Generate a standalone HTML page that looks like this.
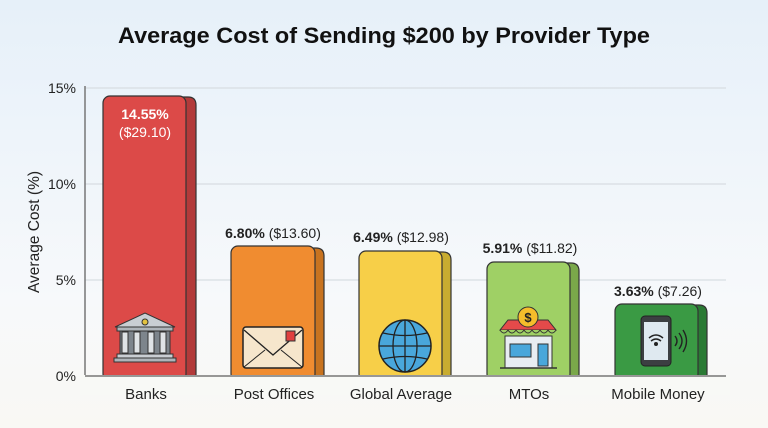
<!DOCTYPE html>
<html><head><meta charset="utf-8"><style>
html,body{margin:0;padding:0;width:768px;height:428px;overflow:hidden;}
svg{display:block;font-family:"Liberation Sans",sans-serif;}
</style></head><body>
<svg width="768" height="428" viewBox="0 0 768 428">
<defs>
<linearGradient id="bg" x1="0" y1="0" x2="0" y2="1">
<stop offset="0" stop-color="#e6f0f9"/><stop offset="0.7" stop-color="#f7f9fb"/><stop offset="1" stop-color="#f9f8f4"/>
</linearGradient>
</defs>
<rect width="768" height="428" fill="url(#bg)"/>
<text x="384" y="43" text-anchor="middle" font-size="22" font-weight="bold" fill="#111" textLength="532" lengthAdjust="spacingAndGlyphs">Average Cost of Sending $200 by Provider Type</text>

<g stroke="#d8dde2" stroke-width="1.2">
<line x1="85" y1="88" x2="726" y2="88"/>
<line x1="85" y1="184" x2="726" y2="184"/>
<line x1="85" y1="280" x2="726" y2="280"/>
</g>
<line x1="85" y1="86" x2="85" y2="376" stroke="#777" stroke-width="1.5"/>

<g font-size="14" fill="#222" text-anchor="end">
<text x="76" y="93">15%</text>
<text x="76" y="189">10%</text>
<text x="76" y="285">5%</text>
<text x="76" y="381">0%</text>
</g>
<text transform="translate(39,232) rotate(-90)" text-anchor="middle" font-size="15.5" fill="#222">Average Cost (%)</text>

<g stroke="#333" stroke-width="1.2">
<path d="M176 97 H188 Q196 97 196 105 V376 H176 Z" fill="#b23a3a"/>
<rect x="103" y="96" width="83" height="285" rx="7" fill="#dc4a48"/>
<path d="M304 248 H316 Q324 248 324 256 V376 H304 Z" fill="#c8731f"/>
<rect x="231" y="246" width="84" height="135" rx="7" fill="#f08c30"/>
<path d="M432 252 H443 Q451 252 451 260 V376 H432 Z" fill="#c8ac30"/>
<rect x="359" y="251" width="83" height="130" rx="7" fill="#f7cf48"/>
<path d="M560 263 H571 Q579 263 579 271 V376 H560 Z" fill="#7aa84a"/>
<rect x="487" y="262" width="83" height="119" rx="7" fill="#9fd065"/>
<path d="M688 305 H699 Q707 305 707 313 V376 H688 Z" fill="#2a7a34"/>
<rect x="615" y="304" width="83" height="77" rx="7" fill="#3a9a44"/>
</g>
<rect x="80" y="375" width="650" height="20" fill="#f8f9f6"/>
<line x1="85" y1="376" x2="726" y2="376" stroke="#777" stroke-width="1.5"/>

<g stroke="#333" stroke-width="1">
<polygon points="115,327 145,313 175,327" fill="#c9ced3"/>
<circle cx="145" cy="322" r="3" fill="#e3c23f"/>
<rect x="117" y="327" width="56" height="4" fill="#aeb4ba"/>
<rect x="120" y="331" width="50" height="23" fill="#7d858c"/>
<rect x="122" y="332" width="6" height="21" fill="#dfe3e6"/>
<rect x="134" y="332" width="6" height="21" fill="#dfe3e6"/>
<rect x="148" y="332" width="6" height="21" fill="#dfe3e6"/>
<rect x="160" y="332" width="6" height="21" fill="#dfe3e6"/>
<rect x="117" y="354" width="56" height="4" fill="#c9ced3"/>
<rect x="114" y="358" width="62" height="4" fill="#aeb4ba"/>
<rect x="243" y="327" width="60" height="41" rx="3" fill="#f6e6cc" stroke="#222" stroke-width="1.5"/>
<polyline points="244,330 273,355 302,330" fill="none" stroke="#222" stroke-width="1.3"/>
<line x1="244" y1="367" x2="265" y2="350" stroke="#222"/>
<line x1="302" y1="367" x2="281" y2="350" stroke="#222"/>
<rect x="286" y="331" width="9" height="10" fill="#e04040"/>
<circle cx="405" cy="346" r="26" fill="#49a7db" stroke="#222" stroke-width="1.5"/>
<ellipse cx="405" cy="346" rx="12" ry="26" fill="none" stroke="#222" stroke-width="1.3"/>
<line x1="405" y1="320" x2="405" y2="372" stroke="#222" stroke-width="1.3"/>
<line x1="379" y1="346" x2="431" y2="346" stroke="#222" stroke-width="1.3"/>
<path d="M383 333 Q405 338 427 333 M383 359 Q405 354 427 359" fill="none" stroke="#222" stroke-width="1.3"/>
<rect x="505" y="336" width="47" height="32" fill="#e8edf2"/>
<path d="M500 330 L508 320 H548 L556 330 Z" fill="#e44a4a"/>
<path d="M500 330 Q504 336 508 330 Q512 336 516 330 Q520 336 524 330 Q528 336 532 330 Q536 336 540 330 Q544 336 548 330 Q552 336 556 330" fill="#9fd065"/>
<rect x="510" y="344" width="21" height="13" fill="#49a7db"/>
<rect x="538" y="344" width="10" height="22" fill="#49a7db"/>
<line x1="500" y1="368" x2="557" y2="368" stroke-width="1.5"/>
<circle cx="528" cy="317" r="10" fill="#f5bd2b"/>
</g>
<text x="528" y="322" text-anchor="middle" font-size="13" font-weight="bold" fill="#222">$</text>
<g stroke="#222">
<rect x="641" y="316" width="30" height="50" rx="4" fill="#3c3f42"/>
<rect x="644" y="322" width="24" height="38" fill="#dfe9f0" stroke="none"/>
<path d="M649 338 Q656 332 663 338 M651 341 Q656 337 661 341" fill="none" stroke-width="1.5"/>
<circle cx="656" cy="344" r="1.5" fill="#222"/>
<path d="M675 336 Q679 341 675 346 M679 333 Q685 341 679 349 M683 330 Q690 341 683 352" fill="none" stroke-width="1.4"/>
</g>

<text x="145" y="119" text-anchor="middle" font-size="14" font-weight="bold" fill="#fff">14.55%</text>
<text x="145" y="137" text-anchor="middle" font-size="14" fill="#fff">($29.10)</text>
<text x="273" y="238" text-anchor="middle" font-size="14" fill="#222"><tspan font-weight="bold">6.80%</tspan> ($13.60)</text>
<text x="401" y="242" text-anchor="middle" font-size="14" fill="#222"><tspan font-weight="bold">6.49%</tspan> ($12.98)</text>
<text x="530" y="253" text-anchor="middle" font-size="14" fill="#222"><tspan font-weight="bold">5.91%</tspan> ($11.82)</text>
<text x="658" y="296" text-anchor="middle" font-size="14" fill="#222"><tspan font-weight="bold">3.63%</tspan> ($7.26)</text>

<g font-size="15" fill="#222" text-anchor="middle">
<text x="146" y="399">Banks</text>
<text x="274" y="399">Post Offices</text>
<text x="401" y="399">Global Average</text>
<text x="529" y="399">MTOs</text>
<text x="658" y="399">Mobile Money</text>
</g>
</svg>
</body></html>
